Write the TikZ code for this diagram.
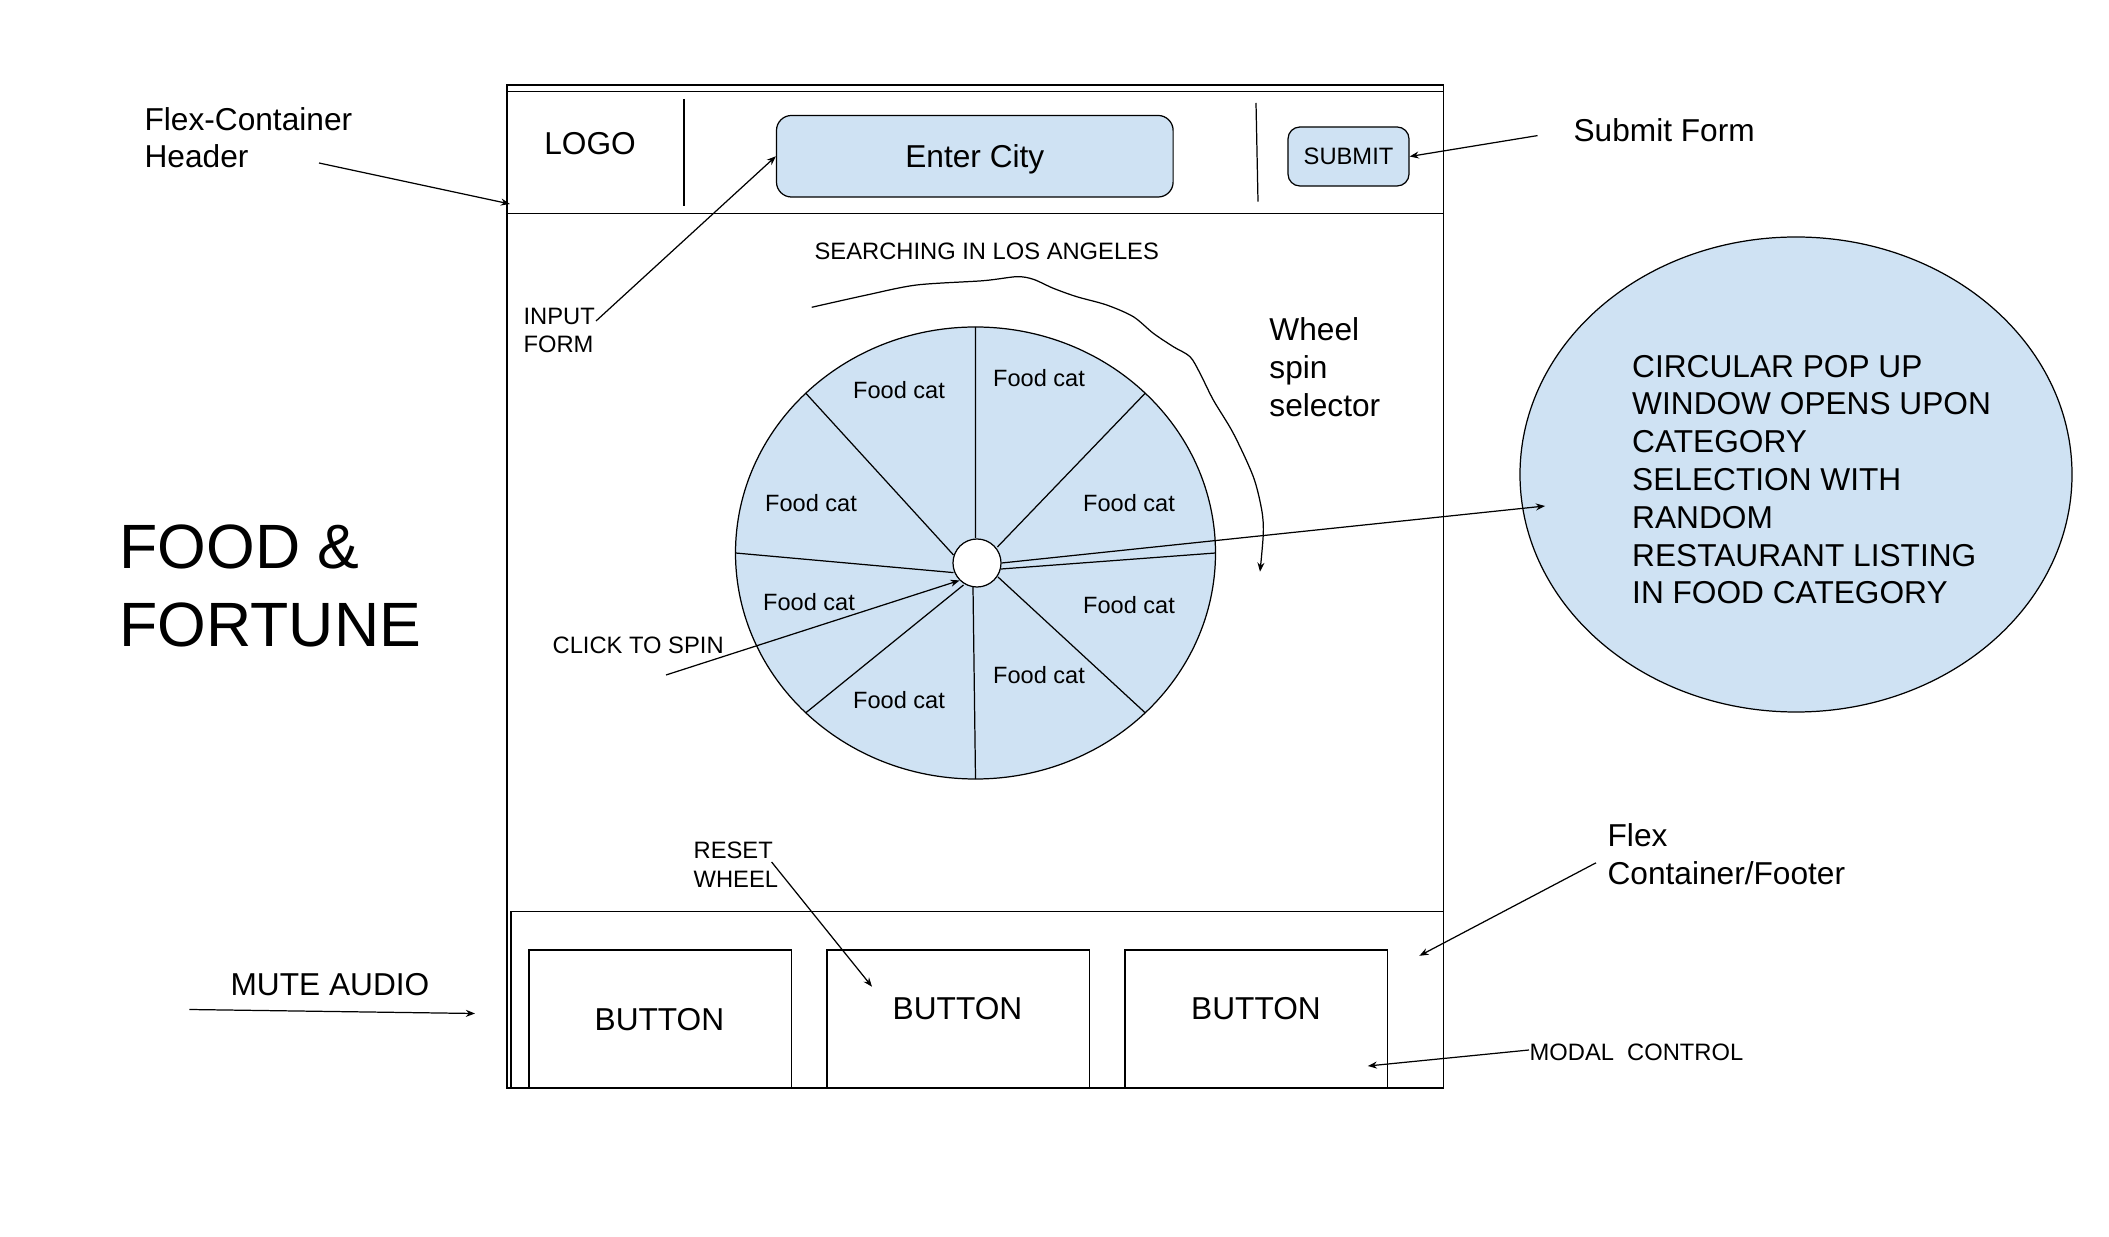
\documentclass[tikz,border=0pt]{standalone}
\usepackage{fontspec}
\setmainfont{Liberation Sans}
\usetikzlibrary{arrows.meta}
\definecolor{paleblue}{HTML}{CFE2F3}
\newcommand{\lblfont}{\fontsize{9pt}{10.75pt}\selectfont}
\newcommand{\smlfont}{\fontsize{6.75pt}{8.2pt}\selectfont}
\newcommand{\catfont}{\fontsize{6.7pt}{8pt}\selectfont}
\newcommand{\ttlfont}{\fontsize{17.8pt}{22.2pt}\selectfont}
\tikzset{
	note/.style={inner sep=0pt, anchor=base west, align=left, font=\lblfont},
	tag/.style={inner sep=0pt, anchor=base west, align=left, font=\smlfont},
	pointer/.style={-{Stealth[length=2.6pt,width=2pt]}},
	field/.style={draw, fill=paleblue, rounded corners=0.15cm, inner sep=0pt},
}

\begin{document}
\begin{tikzpicture}[x=0.01cm, y=-0.01cm, line width=0.35pt]
	\useasboundingbox (0,0) rectangle (2109,1237);
	% page frame
	\draw (507,85) rectangle (1443.5,1088);
	\draw (507,91.3) -- (1443.5,91.3);
	\draw (507,213.5) -- (1443.5,213.5);
	\draw (511,911.6) rectangle (1443.5,1088);
	% header
	\draw (684,99) -- (684,205.6);
	\draw (1256,103) -- (1258,201.6);
	\node[inner sep=0pt, anchor=base west, font=\lblfont] (logo) at (543.7,155) {LOGO};
	\node[field, minimum width=3.964cm, minimum height=0.815cm, text height=6.45pt, text depth=0pt, font=\lblfont] (city) at (974.8,156.25) {Enter City};
	\node[field, rounded corners=0.12cm, minimum width=1.21cm, minimum height=0.59cm, text height=4.83pt, text depth=0pt, font=\smlfont] (submit) at (1348.5,156.5) {SUBMIT};
	% wheel
	\draw[fill=paleblue] (975.5,553) ellipse [x radius=240, y radius=226];
	\foreach \ang/\ix/\iy in {90/975.6/538, 135/953.5/555, 180/953.5/572.6, 225/963.5/585,
		270/973/587, 315/998/577, 0/1001/569, 45/997.4/547}
		\draw (\ix,\iy) -- ({975.5+240*cos(\ang)},{553-226*sin(\ang)});
	\node[circle, draw, fill=white, minimum size=0.48cm, inner sep=0pt] (hub) at (977,563) {};
	\foreach \cx/\cy [count=\i] in {899/390, 1039/378, 811/503, 1129/503, 809/602, 1129/605, 899/700, 1039/675}
		\node[inner sep=0pt, font=\catfont] (cat\i) at (\cx,\cy) {Food cat};
	% pop up
	\draw[fill=paleblue] (1796,474.5) ellipse [x radius=276, y radius=237.5];
	\node[note] (popup) at (1631.6,604) {CIRCULAR POP UP\\WINDOW OPENS UPON\\CATEGORY\\SELECTION WITH\\RANDOM\\RESTAURANT LISTING\\IN FOOD CATEGORY};
	% footer buttons
	\draw (529,950) rectangle (791.3,1088);
	\draw (827,950) rectangle (1089.8,1088);
	\draw (1125,950) rectangle (1387.6,1088);
	\node[inner sep=0pt, anchor=base, font=\lblfont] (mutebtn) at (659.4,1030.6) {BUTTON};
	\node[inner sep=0pt, anchor=base, font=\lblfont] (resetbtn) at (957.5,1019.6) {BUTTON};
	\node[inner sep=0pt, anchor=base, font=\lblfont] (modalbtn) at (1256,1019.6) {BUTTON};
	% title
	\node[inner sep=0pt, anchor=base west, align=left, font=\ttlfont] (title) at (119,647) {FOOD \&\\FORTUNE};
	% annotations
	\node[note] (hdr) at (144,168) {Flex-Container\\Header};
	\node[note] (subform) at (1573,141.5) {Submit Form};
	\node[tag] (search) at (814,260) {SEARCHING IN LOS ANGELES};
	\node[tag] (input) at (523,353) {INPUT\\FORM};
	\node[note] (spin) at (1268.8,416.4) {Wheel\\spin\\selector};
	\node[tag] (click) at (552,654) {CLICK TO SPIN};
	\node[tag] (reset) at (693,887) {RESET\\WHEEL};
	\node[note] (mute) at (230,995) {MUTE AUDIO};
	\node[note] (footer) at (1607,884) {Flex\\Container/Footer};
	\node[tag] (modal) at (1529,1060) {MODAL\ \ CONTROL};
	% arrow ends
	\coordinate (hdrtail) at (319,163);
	\coordinate (hdrtip) at (510,204);
	\coordinate (inputtail) at (596,321);
	\coordinate (subtail) at (1537.5,135.6);
	\coordinate (clicktail) at (666,675);
	\coordinate (popuptip) at (1545,506);
	\coordinate (resettail) at (771.6,862);
	\coordinate (resettip) at (872,986.7);
	\coordinate (mutetail) at (189.4,1009.5);
	\coordinate (mutetip) at (475,1013.5);
	\coordinate (footertail) at (1596,862.8);
	\coordinate (footertip) at (1419.4,955.8);
	\coordinate (modaltail) at (1529,1050);
	\coordinate (modaltip) at (1367.8,1066);
	% arrows
	\draw[pointer] (hdrtail) -- (hdrtip);
	\draw[pointer] (inputtail) -- (city.west);
	\draw[pointer] (subtail) -- (submit.east);
	\draw[pointer] (clicktail) -- (hub.225);
	\draw[pointer] (hub.east) -- (popuptip);
	\draw[pointer] (resettail) -- (resettip);
	\draw[pointer] (mutetail) -- (mutetip);
	\draw[pointer] (footertail) -- (footertip);
	\draw[pointer] (modaltail) -- (modaltip);
	% selector path
	\draw[pointer] plot[smooth, tension=0.5] coordinates {(811.7,307.3) (866.7,295) (916.7,285) (983.3,280.7)
		(1016.7,276.7) (1033.3,279.3) (1053.3,288.3) (1076.7,296.7) (1106.7,305) (1133.3,316.7)
		(1153.3,333.3) (1173.3,346.7) (1190,356.7) (1200,373.3) (1213.3,400) (1233.3,433.3)
		(1253.3,476.7) (1261.7,510) (1263.3,533.3) (1260,571.7)};
\end{tikzpicture}
\end{document}
